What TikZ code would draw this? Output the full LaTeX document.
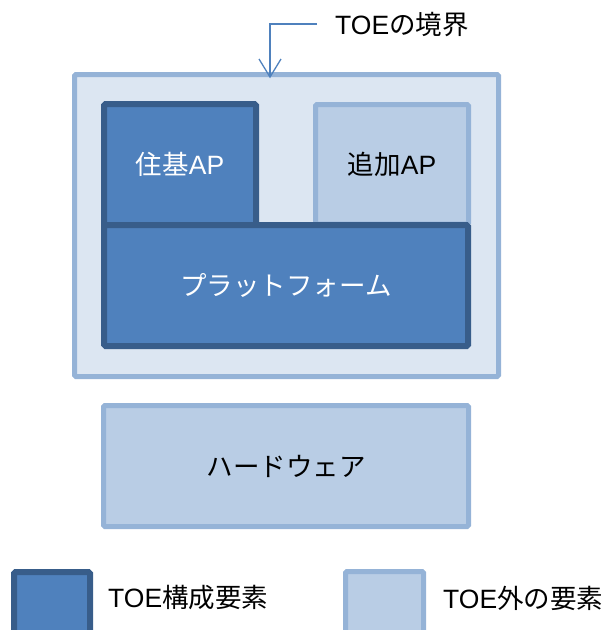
\documentclass[tikz,border=0pt]{standalone}
\usepackage{fontspec}
\setmainfont{Liberation Sans}
\newfontfamily\jpfont{Noto Sans CJK JP}
\usetikzlibrary{arrows.meta,calc}
\definecolor{darkfill}{HTML}{4F81BD}
\definecolor{darkline}{HTML}{385D8A}
\definecolor{lightfill}{HTML}{B9CDE5}
\definecolor{lightline}{HTML}{95B3D7}
\definecolor{outerfill}{HTML}{DCE6F2}
\definecolor{arrowblue}{HTML}{4F81BD}
\begin{document}
\begin{tikzpicture}[x=1pt,y=-1pt,
  box/.style={rectangle, inner sep=0pt, outer sep=0pt, rounded corners=1.5pt},
  comp/.style={box, fill=darkfill, draw=darkline, line width=6pt, text=white, font=\fontsize{26.5}{30}\selectfont},
  ext/.style={box, fill=lightfill, draw=lightline, line width=5pt, text=black, font=\fontsize{26.5}{30}\selectfont},
  toebox/.style={box, fill=outerfill, draw=lightline, line width=5pt},
  lbl/.style={inner sep=0pt, anchor=west, text=black, font=\fontsize{26.5}{30}\selectfont},
  leglbl/.style={inner sep=0pt, anchor=west, text=black, font=\fontsize{26.5}{30}\selectfont},
  conn/.style={draw=arrowblue, line width=1.3pt, line join=miter}]
\clip (0,0) rectangle (604,630);
\node[toebox, minimum width=424pt, minimum height=302pt] (toe) at (286.5,225.5) {};
\node[comp, minimum width=152pt, minimum height=121pt] (jk) at (180,164.5) {\jpfont 住基\normalfont AP};
\node[ext, minimum width=153pt, minimum height=119.5pt] (add) at (392,164.25) {\jpfont 追加\normalfont AP};
\node[comp, minimum width=364pt, minimum height=121pt] (pf) at (286,285.5) {\jpfont プラットフォーム};
\node[ext, minimum width=365pt, minimum height=121pt] (hw) at (286,466) {\jpfont ハードウェア};
\node[lbl] (bnd) at (335,25) {TOE\jpfont の境界};
\coordinate (a0) at (317,24);
\coordinate (a1) at (270,77);
\draw[conn] (a0) -| (a1);
\draw[conn] ($(a1)+(-11,-18)$) -- (a1) -- ($(a1)+(11,-18)$);
\node[comp, minimum width=76pt, minimum height=78pt] (legc) at (52,611) {};
\node[leglbl] (legct) at (108,598) {TOE\jpfont 構成要素};
\node[ext, minimum width=78pt, minimum height=78.5pt] (lege) at (384.5,610.75) {};
\node[leglbl] (leget) at (443,598) {TOE\jpfont 外の要素};
\end{tikzpicture}
\end{document}
